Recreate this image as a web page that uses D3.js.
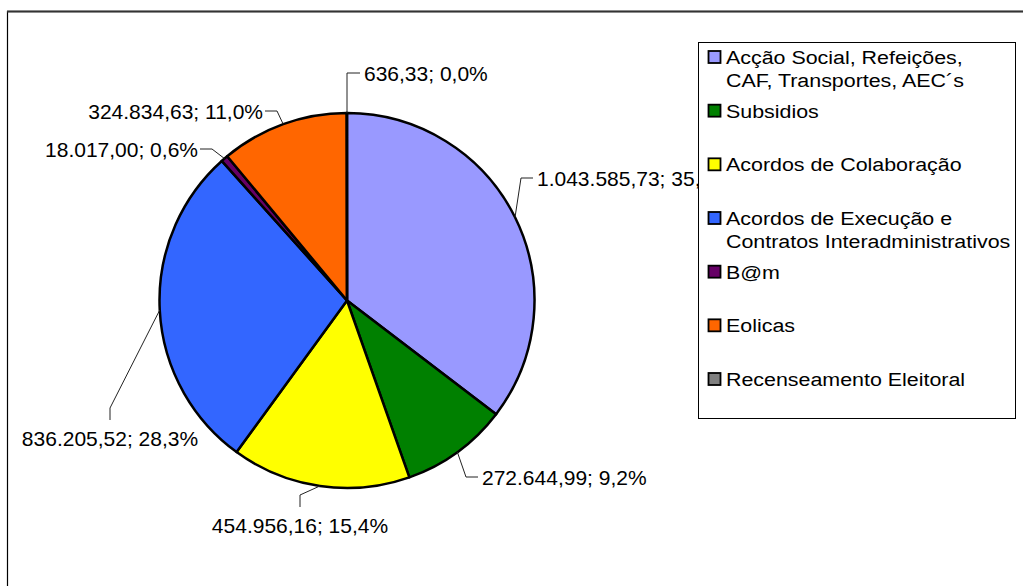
<!DOCTYPE html>
<html>
<head>
<meta charset="utf-8">
<script src="https://cdn.jsdelivr.net/npm/d3@7"></script>
<style>
  body { margin: 0; background: #fff; }
  text { font-family: "Liberation Sans", Arial, sans-serif; fill: #000; }
</style>
</head>
<body>
<div id="chart"></div>
<script>
// categories (legend lines) and values
var categories = [
  ["Acção Social, Refeições,", "CAF, Transportes, AEC´s"],
  ["Subsidios"],
  ["Acordos de Colaboração"],
  ["Acordos de Execução e", "Contratos Interadministrativos"],
  ["B@m"],
  ["Eolicas"],
  ["Recenseamento Eleitoral"]
];
var values = [1043585.73, 272644.99, 454956.16, 836205.52, 18017.00, 324834.63, 636.33];
var colors = ["#9999ff", "#008000", "#ffff00", "#3366ff", "#660066", "#ff6600", "#808080"];

// label attach points, relative to the pie centre, and which side the leader comes from
var labelPos = [
  {x: 186, y: -122.5, side: "right"},
  {x: 131, y: 176.5, side: "right"},
  {x: -47, y: 206.5, side: "bottom"},
  {x: -237, y: 119.5, side: "bottom"},
  {x: -147, y: -151.5, side: "left"},
  {x: -82, y: -189.5, side: "left"},
  {x: 13, y: -227.5, side: "top"}
];

var width = 1023, height = 586;
var cx = 347, cy = 300.5, radius = 187.5;

var pt = d3.formatLocale({decimal: ",", thousands: ".", grouping: [3], currency: ["€", ""]});
var fmtVal = pt.format(",.2f");
var fmtPct = pt.format(".1f");

var svg = d3.select("#chart").append("svg")
    .attr("width", width)
    .attr("height", height);

// outer frame (runs off the picture at right and bottom)
svg.append("rect")
    .attr("x", 7.5).attr("y", 11.5)
    .attr("width", 1200).attr("height", 800)
    .attr("fill", "none")
    .attr("stroke", "#000")
    .attr("stroke-width", 1.2);
svg.append("line")
    .attr("x1", 7).attr("x2", width)
    .attr("y1", 11.5).attr("y2", 11.5)
    .attr("stroke", "#333")
    .attr("stroke-width", 2);

var total = d3.sum(values);
var pie = d3.pie().sort(null).value(function(d) { return d; });
var arcs = pie(values);
var arc = d3.arc().innerRadius(0).outerRadius(radius);

var g = svg.append("g")
    .attr("transform", "translate(" + cx + "," + cy + ")");

g.selectAll("path.slice")
  .data(arcs)
  .enter().append("path")
    .attr("class", "slice")
    .attr("d", arc)
    .attr("fill", function(d, i) { return colors[i]; })
    .attr("stroke", "#000")
    .attr("stroke-width", 2.5)
    .attr("stroke-linejoin", "round");

// leader lines + data labels
arcs.forEach(function(d, i) {
  var a = (d.startAngle + d.endAngle) / 2;
  var ex = radius * Math.sin(a), ey = -radius * Math.cos(a);
  var p = labelPos[i];
  var bx = p.x, by = p.y, tx = p.x, ty = p.y, anchor = "start";
  if (p.side == "right") { bx = p.x - 12; tx = p.x + 4; anchor = "start"; }
  if (p.side == "top") { bx = p.x - 13; tx = p.x + 4; anchor = "start"; }
  if (p.side == "left") { bx = p.x + 12; tx = p.x - 2; anchor = "end"; }
  if (p.side == "bottom") { by = p.y - 12; ty = p.y + 18; anchor = "middle"; }
  if (p.side == "top") { ex = bx; }

  g.append("polyline")
    .attr("points", [[ex, ey], [bx, by], [p.x, p.y]].join(" "))
    .attr("fill", "none")
    .attr("stroke", "#222")
    .attr("stroke-width", 1);

  g.append("text")
    .attr("x", tx).attr("y", ty)
    .attr("dy", "0.36em")
    .attr("text-anchor", anchor)
    .style("font-size", "21px")
    .text(fmtVal(values[i]) + "; " + fmtPct(values[i] / total * 100) + "%");
});

// legend (white box drawn over the clipped label)
var legend = svg.append("g");
legend.append("rect")
    .attr("x", 698.5).attr("y", 42.5)
    .attr("width", 317).attr("height", 376)
    .attr("fill", "#fff")
    .attr("stroke", "#000")
    .attr("stroke-width", 1);

var rowY = d3.scaleLinear().domain([0, categories.length - 1]).range([64, 386]);

categories.forEach(function(lines, i) {
  var y = rowY(i);
  legend.append("rect")
    .attr("x", 708.5).attr("y", y - 13)
    .attr("width", 12).attr("height", 12)
    .attr("fill", colors[i])
    .attr("stroke", "#000")
    .attr("stroke-width", 1.8);
  lines.forEach(function(line, j) {
    legend.append("g")
      .attr("transform", "translate(726," + (y + j * 22.5) + ") scale(1.19,1)")
      .append("text")
        .style("font-size", "18px")
        .text(line);
  });
});
</script>
</body>
</html>
